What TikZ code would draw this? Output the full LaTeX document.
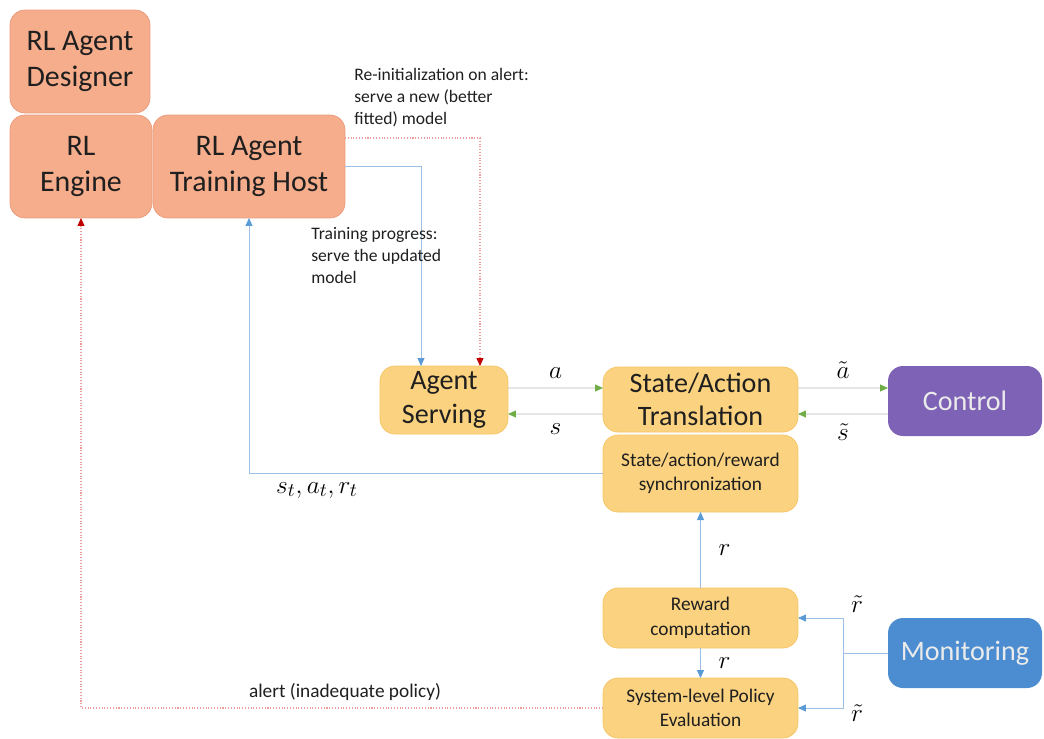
\documentclass[tikz,border=0pt]{standalone}
\usepackage{fontspec}
\setmainfont{Carlito}
\usepackage{amsmath}
\usepackage{tikz}
\usetikzlibrary{arrows.meta}
\definecolor{salmonfill}{HTML}{F5AD8C}
\definecolor{salmonline}{HTML}{EC9A7A}
\definecolor{yellowfill}{HTML}{FBD27F}
\definecolor{yellowline}{HTML}{F6C565}
\definecolor{controlfill}{HTML}{7D62B5}
\definecolor{monitorfill}{HTML}{4B8DD0}
\definecolor{linkblue}{HTML}{9DBFE3}
\definecolor{tipblue}{HTML}{5B9BD5}
\definecolor{linkgray}{HTML}{B8B8B8}
\definecolor{tipgreen}{HTML}{70AD47}
\definecolor{linkred}{HTML}{EC9C9C}
\definecolor{tipred}{HTML}{C00000}
\tikzset{
    boxnode/.style = {
        align=center,
        rectangle,
        rounded corners=3mm,
        inner sep=1mm,
        outer sep=0mm,
        text=black!88
    },
    hostnode/.style = {
        boxnode,
        fill=salmonfill,
        draw=salmonline,
        font=\fontsize{17}{20}\selectfont
    },
    stepnode/.style = {
        boxnode,
        fill=yellowfill,
        draw=yellowline,
        font=\fontsize{16}{19}\selectfont
    },
    smallstepnode/.style = {
        stepnode,
        font=\fontsize{11}{14}\selectfont
    },
    envnode/.style = {
        boxnode,
        draw=none,
        text=white!92!black,
        font=\fontsize{16}{19}\selectfont
    },
    bluelink/.style = {
        draw=linkblue,
        line width=0.5pt,
        -{Triangle[length=1.6mm,width=1.4mm,color=tipblue]}
    },
    greenlink/.style = {
        draw=linkgray,
        line width=0.5pt,
        -{Triangle[length=1.6mm,width=1.4mm,color=tipgreen]}
    },
    redlink/.style = {
        draw=linkred,
        densely dotted,
        line width=0.6pt,
        -{Triangle[length=1.6mm,width=1.4mm,color=tipred]}
    },
    notetext/.style = {
        align=left,
        inner sep=0pt,
        text=black!88,
        font=\fontsize{10}{12.5}\selectfont
    },
    mathlabel/.style = {
        inner sep=0pt,
        font=\fontsize{15}{18}\selectfont
    }
}

\begin{document}
\begin{tikzpicture}[x=0.02cm,y=-0.02cm]
    \useasboundingbox (0,0) rectangle (1044,738);

    % RL side
    \node [hostnode, minimum width=2.8cm, minimum height=2.06cm] (designer) at (80,61.5) {RL Agent\\Designer};
    \node [hostnode, minimum width=2.84cm, minimum height=2.06cm] (engine) at (81,166.5) {RL\\Engine};
    \node [hostnode, minimum width=3.84cm, minimum height=2.06cm] (host) at (249,166.5) {RL Agent\\Training Host};

    % serving and translation
    \node [stepnode, minimum width=2.56cm, minimum height=1.36cm] (serve) at (444,400) {Agent\\Serving};
    \node [stepnode, minimum width=3.9cm, minimum height=1.3cm] (trans) at (700.5,399.5) {State/Action\\Translation};
    \node [smallstepnode, minimum width=3.9cm, minimum height=1.54cm] (sync) at (700.5,473.5) {State/action/reward\\synchronization};
    \node [smallstepnode, minimum width=3.9cm, minimum height=1.2cm] (reward) at (700.5,618) {Reward\\computation};
    \node [smallstepnode, minimum width=3.9cm, minimum height=1.2cm] (eval) at (700.5,708) {System-level Policy\\Evaluation};

    % environment
    \node [envnode, fill=controlfill, minimum width=3.08cm, minimum height=1.4cm] (control) at (965,401) {Control};
    \node [envnode, fill=monitorfill, minimum width=3.08cm, minimum height=1.4cm] (monitor) at (965,653) {Monitoring};

    % model serving links
    \coordinate (reinit) at (480,138);
    \draw [redlink] (host.east |- reinit) -- (reinit) -- (reinit |- serve.north);
    \coordinate (progress) at (421,166.5);
    \draw [bluelink] (host.east) -- (progress) -- (progress |- serve.north);
    \node [notetext, anchor=north west] (reinittext) at (354,68) {Re-initialization on alert:\\serve a new (better\\fitted) model};
    \node [notetext, anchor=north west] (progresstext) at (311,227) {Training progress:\\serve the updated\\model};

    % action / state
    \draw [greenlink] ([yshift=0.24cm]serve.east) -- ([yshift=0.23cm]trans.west) node [mathlabel, midway, above=5pt] {$a$};
    \draw [greenlink] ([yshift=-0.29cm]trans.west) -- ([yshift=-0.28cm]serve.east) node [mathlabel, midway, below=5pt] {$s$};
    \draw [greenlink] ([yshift=0.23cm]trans.east) -- ([yshift=0.26cm]control.west) node [mathlabel, midway, above=5pt] {$\tilde{a}$};
    \draw [greenlink] ([yshift=-0.26cm]control.west) -- ([yshift=-0.29cm]trans.east) node [mathlabel, midway, below=5pt] {$\tilde{s}$};

    % experience back to training
    \draw [bluelink] (sync.west) -| (host.south);
    \node [mathlabel] (sar) at (317,490) {$s_t,a_t,r_t$};

    % reward path
    \draw [bluelink] (reward.north) -- (sync.south) node [mathlabel, midway, right=10pt] {$r$};
    \draw [bluelink] (reward.south) -- (eval.north) node [mathlabel, midway, right=10pt] {$r$};
    \coordinate (split) at (843,653);
    \draw [draw=linkblue, line width=0.5pt] (monitor.west) -- (split);
    \draw [bluelink] (split) |- (reward.east);
    \draw [bluelink] (split) |- (eval.east);
    \node [mathlabel] (rtop) at (857,604) {$\tilde{r}$};
    \node [mathlabel] (rbot) at (857,713) {$\tilde{r}$};

    % alert
    \draw [redlink] (eval.west) -| (engine.south);
    \node [notetext, font=\fontsize{11}{13}\selectfont] (alerttext) at (345,692) {alert (inadequate policy)};
\end{tikzpicture}
\end{document}
